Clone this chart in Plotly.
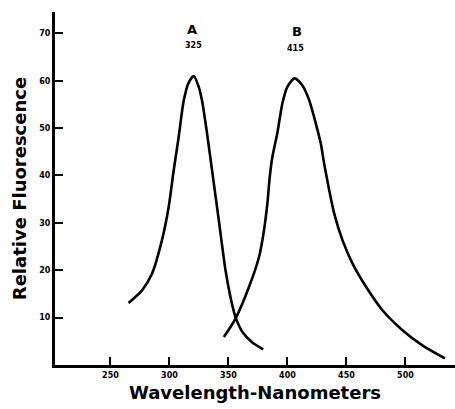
import plotly.graph_objects as go

# Curve A (peak near 320 nm)
a_wavelength = [265.3, 276.6, 285.1, 293.6, 299.3, 303.6, 307.8, 312.1, 316.3, 320.6,
                324.8, 327.6, 331.9, 336.1, 341.8, 347.5, 352.0, 356.0, 362.0, 370.0, 379.5]
a_fluor = [13.1, 15.7, 19.2, 26.3, 33.3, 41.1, 48.1, 55.8, 59.6, 61.0,
           58.7, 55.8, 48.8, 41.1, 30.6, 20.0, 14.0, 10.1, 6.9, 4.8, 3.3]

# Curve B (peak near 406 nm)
b_wavelength = [346.1, 356.0, 367.3, 375.9, 380.1, 383.0, 385.0, 387.2, 391.4, 395.7,
                399.9, 406.0, 412.7, 418.4, 424.1, 428.3, 431.1, 435.4, 439.6, 446.7,
                455.2, 466.6, 480.7, 497.7, 514.7, 533.5]
b_fluor = [5.9, 9.8, 16.4, 22.8, 28.4, 34.1, 39.7, 43.9, 48.9, 55.2,
           58.7, 60.5, 59.0, 55.9, 50.9, 46.7, 42.5, 36.9, 32.0, 26.3,
           21.4, 16.5, 11.5, 7.3, 4.1, 1.4]

x_ticks = [250, 300, 350, 400, 450, 500]
y_ticks = [10, 20, 30, 40, 50, 60, 70]

labels = [("A", 319, 70.8, 13), ("325", 320, 67.4, 8),
          ("B", 408, 70.3, 13), ("415", 407, 66.7, 8)]

FONT = "DejaVu Sans"

fig = go.Figure()
for xs, ys in [(a_wavelength, a_fluor), (b_wavelength, b_fluor)]:
    fig.add_trace(go.Scatter(x=xs, y=ys, mode="lines",
                             line=dict(color="black", width=2.6, shape="spline", smoothing=0.7),
                             showlegend=False, hoverinfo="skip"))

for txt, x, y, size in labels:
    fig.add_annotation(x=x, y=y, text=txt, showarrow=False, xref="x", yref="y",
                       font=dict(family=FONT, size=size, color="black", weight="bold"))

fig.update_layout(
    width=455, height=409,
    margin=dict(l=55, r=0, t=12, b=44),
    paper_bgcolor="white", plot_bgcolor="white",
    font=dict(family=FONT, color="black"),
    xaxis=dict(
        range=[203, 542], tickvals=x_ticks, ticktext=[str(v) for v in x_ticks],
        ticks="inside", ticklen=8, tickwidth=2, tickcolor="black",
        showline=True, linecolor="black", linewidth=3, showgrid=False, zeroline=False,
        tickfont=dict(family=FONT, size=8, weight="bold"),
        title=dict(text="Wavelength-Nanometers",
                   font=dict(family=FONT, size=18, weight="bold"), standoff=8),
    ),
    yaxis=dict(
        range=[0, 74.5], tickvals=y_ticks, ticktext=[str(v) for v in y_ticks],
        ticks="inside", ticklen=8, tickwidth=2, tickcolor="black",
        showline=True, linecolor="black", linewidth=3, showgrid=False, zeroline=False,
        tickfont=dict(family=FONT, size=8, weight="bold"),
        title=dict(text="Relative Fluorescence",
                   font=dict(family=FONT, size=18, weight="bold"), standoff=8),
    ),
)

fig.write_html("out.html")
